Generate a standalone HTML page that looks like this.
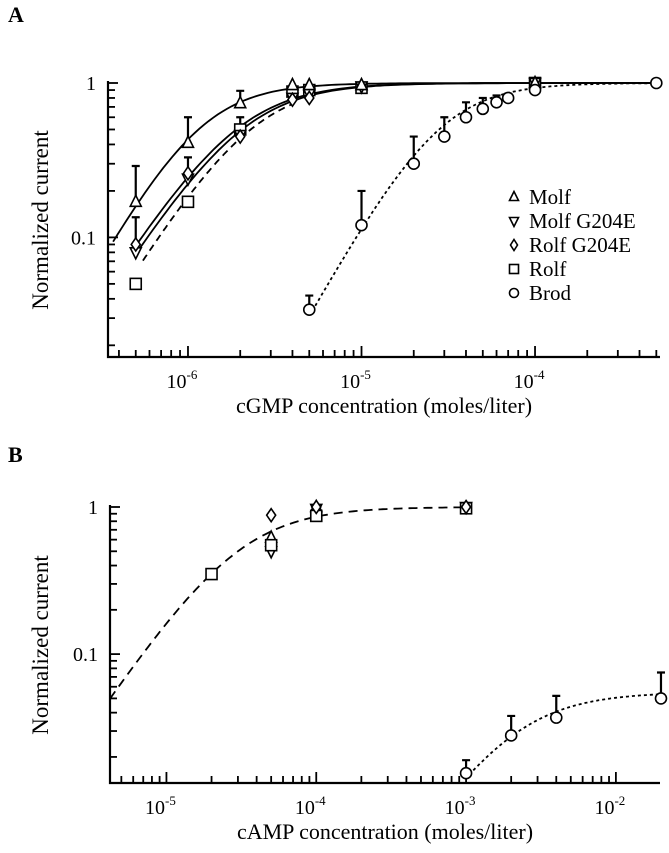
<!DOCTYPE html>
<html><head><meta charset="utf-8"><style>
html,body{margin:0;padding:0;background:#fff}
svg{display:block}
text{font-family:"Liberation Serif",serif;fill:#000}
</style></head><body>
<svg id="fig" width="669" height="853" viewBox="0 0 669 853"></svg>
<script>
// ---------- Panel A data (cGMP) ----------
const aMolfX=[5e-7,1e-6,2e-6,4e-6,5e-6,1e-5,1e-4];
const aMolfY=[0.17,0.41,0.74,0.97,0.97,0.97,1.0];
const aMolfErr=[0.29,0.6,0.89,null,null,null,null];
const aMolfGX=[5e-7,1e-6,2e-6,4e-6,5e-6,1e-5,1e-4];
const aMolfGY=[0.08,0.24,0.46,0.8,0.85,0.95,1.0];
const aRolfGX=[5e-7,1e-6,2e-6,4e-6,5e-6];
const aRolfGY=[0.09,0.26,0.45,0.78,0.8];
const aRolfGErr=[0.135,0.33,null,null,null];
const aRolfX=[5e-7,1e-6,2e-6,4e-6,5e-6,1e-5,1e-4];
const aRolfY=[0.05,0.17,0.5,0.88,0.9,0.93,1.0];
const aRolfErr=[null,null,0.6,null,null,null,null];
const aBrodX=[5e-6,1e-5,2e-5,3e-5,4e-5,5e-5,6e-5,7e-5,1e-4,5e-4];
const aBrodY=[0.034,0.12,0.3,0.45,0.6,0.68,0.75,0.8,0.9,1.0];
const aBrodErr=[0.042,0.2,0.45,0.6,0.75,0.8,0.83,0.85,null,null];
const aXTicks=[-6,-5,-4];
// ---------- Panel B data (cAMP) ----------
const bRolfX=[2e-5,5e-5,1e-4,1e-3];
const bRolfY=[0.35,0.55,0.87,0.98];
const bRolfGX=[5e-5,1e-4,1e-3];
const bRolfGY=[0.88,1.0,1.0];
const bMolfX=[5e-5,1e-4];
const bMolfY=[0.62,1.0];
const bMolfGX=[5e-5,1e-4,1e-3];
const bMolfGY=[0.5,0.97,1.0];
const bBrodX=[1e-3,2e-3,4e-3,2e-2];
const bBrodY=[0.0155,0.028,0.037,0.05];
const bBrodErr=[0.019,0.038,0.052,0.075];
const bXTicks=[-5,-4,-3,-2];

const NS="http://www.w3.org/2000/svg";
const svg=document.getElementById('fig');
function mk(tag,attrs,parent){const e=document.createElementNS(NS,tag);for(const k in attrs)e.setAttribute(k,attrs[k]);(parent||svg).appendChild(e);return e;}
function hill(K,n,m){return x=>m/(1+Math.pow(K/x,n));}

function panel(cfg){
  const g=mk('g',{});
  
  
  const lx=Math.log10(cfg.xmin),hx=Math.log10(cfg.xmax);
  const ly=Math.log10(cfg.ymin);
  const X=v=>cfg.left+(Math.log10(v)-lx)/(hx-lx)*(cfg.right-cfg.left);
  const Y=v=>cfg.top+(0-Math.log10(v))/(0-ly)*(cfg.bottom-cfg.top);
  const ax=mk('path',{d:`M${cfg.left},${Y(1)-2}V${cfg.bottom}H${cfg.right}`,fill:'none',stroke:'#000','stroke-width':2.2},g);
  
  
  for(let d=-2;d<=0;d++)for(let k=1;k<=9;k++){const v=k*Math.pow(10,d);if(v<cfg.ymin||v>1.0001)continue;
    const y=Y(v);const L=(k===1)?10:7;
    const t=mk('line',{x1:cfg.left,x2:cfg.left+L,y1:y,y2:y,stroke:'#000','stroke-width':1.8},g);
    
    }
  const yl1=mk('text',{x:cfg.left-12,y:Y(1)+7,'font-size':20,'text-anchor':'end'},g);yl1.textContent='1';
  
  
  const yl2=mk('text',{x:cfg.left-12,y:Y(0.1)+7,'font-size':20,'text-anchor':'end'},g);yl2.textContent='0.1';
  
  
  for(let d=-8;d<=0;d++)for(let k=1;k<=9;k++){const v=k*Math.pow(10,d);if(v<cfg.xmin||v>cfg.xmax*1.001)continue;
    const x=X(v);const L=(k===1)?11:7;
    const t=mk('line',{x1:x,x2:x,y1:cfg.bottom,y2:cfg.bottom-L,stroke:'#000','stroke-width':1.8},g);
    
    }
  cfg.xticks.forEach(e=>{const t=mk('text',{x:X(Math.pow(10,e))-6,y:cfg.bottom+31,'font-size':20,'text-anchor':'middle'},g);
    
    
    t.appendChild(document.createTextNode('10'));
    const s=mk('tspan',{'font-size':13,dy:-9},t);s.textContent=String(e);});
  const xt=mk('text',{x:(cfg.left+cfg.right)/2,y:cfg.bottom+56,'font-size':22,'text-anchor':'middle'},g);xt.textContent=cfg.xtitle;
  
  
  const cy=(Y(1)+cfg.bottom)/2;
  const yt=mk('text',{x:48,y:cy,'font-size':23,'text-anchor':'middle',transform:`rotate(-90 48 ${cy})`},g);yt.textContent='Normalized current';
  
  
  const pl=mk('text',{x:8,y:cfg.labelY,'font-size':22,'font-weight':'bold'},g);pl.textContent=cfg.label;
  
  
  return {g,X,Y};
}
function curve(p,f,x0,x1,dash,name){
  let d='';const N=120;
  for(let i=0;i<=N;i++){const lx=Math.log10(x0)+(Math.log10(x1)-Math.log10(x0))*i/N;const x=Math.pow(10,lx);
    d+=(i?'L':'M')+p.X(x).toFixed(1)+','+p.Y(f(x)).toFixed(1);}
  const e=mk('path',{d,fill:'none',stroke:'#000','stroke-width':1.8,'stroke-dasharray':dash||'none'},p.g);
  
  
}
function marker(p,type,x,y,name){
  const cx=p.X(x),cy=p.Y(y),r=5.5;let e;
  const st={fill:'#fff',stroke:'#000','stroke-width':1.6};
  if(type==='circle')e=mk('circle',Object.assign({cx,cy,r},st),p.g);
  else if(type==='square')e=mk('rect',Object.assign({x:cx-r,y:cy-r,width:2*r,height:2*r},st),p.g);
  else if(type==='up')e=mk('polygon',Object.assign({points:`${cx},${cy-r-1} ${cx-r},${cy+r-1} ${cx+r},${cy+r-1}`},st),p.g);
  else if(type==='down')e=mk('polygon',Object.assign({points:`${cx},${cy+r+1} ${cx-r},${cy-r+1} ${cx+r},${cy-r+1}`},st),p.g);
  else e=mk('polygon',Object.assign({points:`${cx},${cy-r-1} ${cx+r-1},${cy} ${cx},${cy+r+1} ${cx-r+1},${cy}`},st),p.g);
  
  
}
function errbar(p,x,y,u){
  const cx=p.X(x);
  const e=mk('path',{d:`M${cx},${p.Y(y)-5}V${p.Y(u)}M${cx-4},${p.Y(u)}H${cx+4}`,stroke:'#000','stroke-width':2.2,fill:'none'},p.g);
  
  
}
function series(p,xs,ys,errs,type,name){
  xs.forEach((x,i)=>{if(errs&&errs[i])errbar(p,x,ys[i],errs[i]);});
  xs.forEach((x,i)=>marker(p,type,x,ys[i],name));
}

// Panel A
const A=panel({name:'panel-a',left:108,right:660,top:83,bottom:357,xmin:3.46e-7,xmax:5.25e-4,ymin:0.0168,xticks:aXTicks,xtitle:'cGMP concentration (moles/liter)',label:'A',labelY:22});
curve(A,hill(1.15e-6,2,1),3.7e-7,5.2e-4,null,'molf-fit');
curve(A,hill(1.9e-6,1.75,1),5e-7,5.2e-4,null,'molf-g204e-fit');
curve(A,hill(2.05e-6,1.75,1),5e-7,5.2e-4,null,'rolf-g204e-fit');
curve(A,hill(2.3e-6,1.8,1),5.5e-7,4e-6,'7,5','rolf-fit');
curve(A,hill(2.8e-5,2,1),5.2e-6,5e-4,'3,3','brod-fit');
series(A,aRolfX,aRolfY,aRolfErr,'square','rolf-point');
series(A,aMolfGX,aMolfGY,null,'down','molf-g204e-point');
series(A,aRolfGX,aRolfGY,aRolfGErr,'diamond','rolf-g204e-point');
series(A,aMolfX,aMolfY,aMolfErr,'up','molf-point');
series(A,aBrodX,aBrodY,aBrodErr,'circle','brod-point');
// legend
const legT=['Molf','Molf G204E','Rolf G204E','Rolf','Brod'];
const legM=['up','down','diamond','square','circle'];
const legY=[197,221,245,269,293];
const lg=mk('g',{});


legT.forEach((t,i)=>{
  const r=4.5,cx=514,cy=legY[i];let e;const st={fill:'#fff',stroke:'#000','stroke-width':1.6};
  const m=legM[i];
  if(m==='circle')e=mk('circle',Object.assign({cx,cy,r},st),lg);
  else if(m==='square')e=mk('rect',Object.assign({x:cx-r,y:cy-r,width:2*r,height:2*r},st),lg);
  else if(m==='up')e=mk('polygon',Object.assign({points:`${cx},${cy-r-1} ${cx-r},${cy+r-1} ${cx+r},${cy+r-1}`},st),lg);
  else if(m==='down')e=mk('polygon',Object.assign({points:`${cx},${cy+r+1} ${cx-r},${cy-r+1} ${cx+r},${cy-r+1}`},st),lg);
  else e=mk('polygon',Object.assign({points:`${cx},${cy-r-1} ${cx+r-1},${cy} ${cx},${cy+r+1} ${cx-r+1},${cy}`},st),lg);
  
  
  const tx=mk('text',{x:529,y:cy+7,'font-size':21},lg);tx.textContent=t;
  
  
});

// Panel B
const B=panel({name:'panel-b',left:110,right:660,top:507,bottom:783,xmin:4.2e-6,xmax:1.97e-2,ymin:0.0133,xticks:bXTicks,xtitle:'cAMP concentration (moles/liter)',label:'B',labelY:462});
curve(B,hill(3e-5,1.5,1),4.2e-6,1e-3,'9,6','camp-channel-fit');
curve(B,hill(2e-3,1.5,0.055),1.05e-3,1.97e-2,'3,3','camp-brod-fit');
series(B,bMolfGX,bMolfGY,null,'down','molf-g204e-point');
series(B,bMolfX,bMolfY,null,'up','molf-point');
series(B,bRolfX,bRolfY,null,'square','rolf-point');
series(B,bRolfGX,bRolfGY,null,'diamond','rolf-g204e-point');
series(B,bBrodX,bBrodY,bBrodErr,'circle','brod-point');
</script>
</body></html>
